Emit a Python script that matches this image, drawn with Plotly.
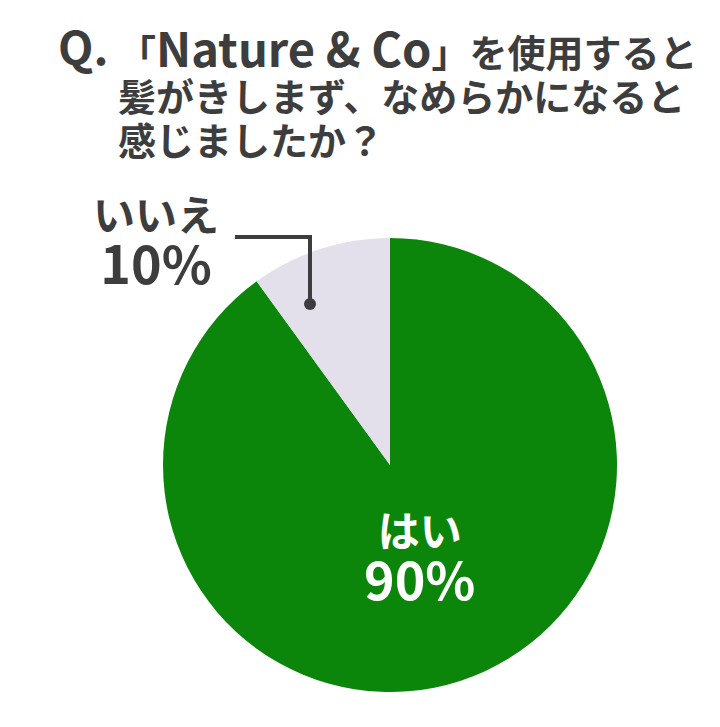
import plotly.graph_objects as go

W, H = 720, 727
OFF = 8  # default body margin of the html page

answers = ['はい', 'いいえ']
shares = [90, 10]
slice_colors = ['#0b860b', '#e3e0ec']
title_prefix = 'Q.'
title_lines = ['「<span style="font-size:47px">Nature &amp; Co</span>」を使用すると',
               '髪がきしまず、なめらかになると',
               '感じましたか？']

FONT = 'Noto Sans CJK JP'
DARK = '#3d3d3d'


def px_x(x):
    return (x - OFF) / W


def px_y(y):
    return 1 - (y - OFF) / H


fig = go.Figure(go.Pie(
    labels=answers,
    values=shares,
    marker=dict(colors=slice_colors, line=dict(width=0)),
    sort=False,
    direction='clockwise',
    rotation=0,
    textinfo='none',
    hoverinfo='label+percent',
    showlegend=False,
    domain=dict(x=[px_x(163), px_x(617)], y=[px_y(692), px_y(238)]),
))

annotations = []
# title: "Q." hangs left of the indented question block
# base size sets the line pitch, spans set the glyph size
annotations.append(dict(text='<b><span style="font-size:46px">%s</span></b>' % title_prefix,
                        x=px_x(56), y=px_y(45), xref='paper', yref='paper',
                        xanchor='left', yanchor='middle', showarrow=False,
                        font=dict(family=FONT, size=38, color=DARK)))
body = '<br>'.join('<b><span style="font-size:38px">%s</span></b>' % s for s in title_lines)
annotations.append(dict(text=body, x=px_x(116), y=px_y(89), xref='paper', yref='paper',
                        xanchor='left', yanchor='middle', align='left', showarrow=False,
                        font=dict(family=FONT, size=34, color=DARK)))

# slice labels
label_pos = {'はい': (419, 556, 'white'), 'いいえ': (156, 241, DARK)}
for name, val in zip(answers, shares):
    x, y, col = label_pos[name]
    txt = ('<b><span style="font-size:42px">%s</span></b><br>'
           '<b><span style="font-size:52px">%d%%</span></b>' % (name, val))
    annotations.append(dict(text=txt, x=px_x(x), y=px_y(y), xref='paper', yref='paper',
                            xanchor='center', yanchor='middle', showarrow=False,
                            font=dict(family=FONT, size=41, color=col)))

# leader line for the small slice
shapes = [
    dict(type='path', xref='paper', yref='paper',
         path='M %f %f L %f %f L %f %f' % (px_x(235), px_y(237), px_x(310), px_y(237), px_x(310), px_y(304)),
         line=dict(color=DARK, width=4)),
    dict(type='circle', xref='paper', yref='paper',
         x0=px_x(304), x1=px_x(316), y0=px_y(298), y1=px_y(310),
         fillcolor=DARK, line=dict(width=0)),
]

fig.update_layout(
    width=W, height=H,
    margin=dict(l=0, r=0, t=0, b=0),
    paper_bgcolor='white',
    plot_bgcolor='white',
    annotations=annotations,
    shapes=shapes,
)

fig.write_html('out.html')
